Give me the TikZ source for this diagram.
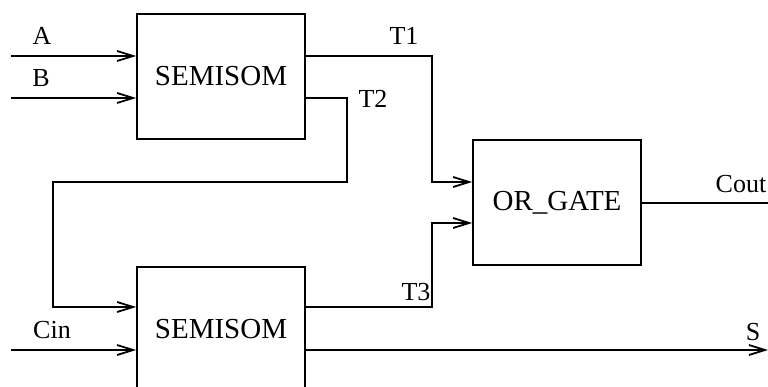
\documentclass[tikz,border=0pt]{standalone}
\usepackage{fontspec}
\setmainfont{Liberation Serif}
\usetikzlibrary{arrows.meta}
\begin{document}
\begin{tikzpicture}[x=1pt,y=-1pt,
  wire/.style={line width=1.8pt},
  arr/.style={wire,-{Straight Barb[length=16pt,width=10pt,line width=1.8pt]}},
  blk/.style={draw,line width=1.8pt,rectangle,minimum width=168pt,minimum height=125pt,inner sep=0pt,font=\fontsize{29}{30}\selectfont},
  lbl/.style={anchor=base,inner sep=0pt,font=\fontsize{26}{27}\selectfont}]
\useasboundingbox (0,0) rectangle (768,387);
\begin{scope}
\clip (0,0) rectangle (768,387);
\node[blk] (h1) at (221,76.5) {SEMISOM};
\node[blk] (h2) at (221,329.5) {SEMISOM};
\node[blk] (org) at (557,202.5) {OR\_GATE};
\end{scope}
% free ends and bends
\coordinate (inA) at (11,56);
\coordinate (inB) at (11,98);
\coordinate (inC) at (11,350);
\coordinate (t1a) at (432,56);
\coordinate (t1b) at (432,182);
\coordinate (t2a) at (347,98);
\coordinate (t2b) at (347,182);
\coordinate (t2c) at (53,182);
\coordinate (t2d) at (53,307);
\coordinate (t3a) at (432,307);
\coordinate (t3b) at (432,223);
\coordinate (cout) at (768,203);
\coordinate (sout) at (768,350);
% inputs
\draw[arr] (inA) -- (h1.west |- inA);
\draw[arr] (inB) -- (h1.west |- inB);
\draw[arr] (inC) -- (h2.west |- inC);
% T1
\draw[arr] (h1.east |- inA) -- (t1a) -- (t1b) -- (org.west |- t1b);
% T2
\draw[arr] (h1.east |- inB) -- (t2a) -- (t2b) -- (t2c) -- (t2d) -- (h2.west |- t2d);
% T3
\draw[arr] (h2.east |- t2d) -- (t3a) -- (t3b) -- (org.west |- t3b);
% outputs
\draw[wire] (org.east |- cout) -- (cout);
\draw[arr] (h2.east |- sout) -- (sout);
% labels
\node[lbl] (lA) at (42,45) {A};
\node[lbl] (lB) at (41,87) {B};
\node[lbl] (lC) at (52,338) {Cin};
\node[lbl] (l1) at (404,45) {T1};
\node[lbl] (l2) at (373,108) {T2};
\node[lbl] (l3) at (416,300) {T3};
\node[lbl] (lco) at (741,193) {Cout};
\node[lbl] (lS) at (753,340) {S};
\end{tikzpicture}
\end{document}
